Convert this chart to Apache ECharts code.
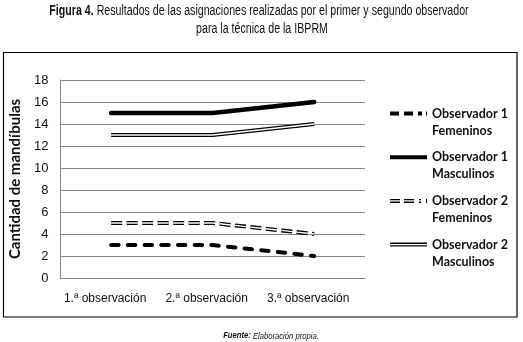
<!DOCTYPE html>
<html>
<head>
<meta charset="utf-8">
<script src="https://cdn.jsdelivr.net/npm/echarts@6/dist/echarts.min.js"></script>
<style>
  html, body { margin: 0; padding: 0; background: #fff; }
  #chart { width: 523px; height: 342px; }
</style>
</head>
<body>
<div id="chart"></div>
<script>
// data
const categories = ['1.ª observación', '2.ª observación', '3.ª observación']
const obs1Fem = [3, 3, 2]
const obs1Masc = [15, 15, 16]
const obs2Fem = [5, 5, 4]
const obs2Masc = [13, 13, 14]
const yTicks = { min: 0, max: 18, interval: 2 }

const chart = echarts.init(document.getElementById('chart'))

// legend icons drawn in a 37x4 box
const iconDash = 'path://M0,0H9V4H0Z M14,0H23V4H14Z M28,0H32V4H28Z M36,0H37V4H36Z'
const iconSolid = 'path://M0,0H37V4H0Z'
const iconDoubleDash = 'path://M0,0H10V1.3H0Z M0,2.7H10V4H0Z M14,0H24V1.3H14Z M14,2.7H24V4H14Z M29,0H31V1.3H29Z M29,2.7H31V4H29Z M36,0H37V4H36Z'
const iconDouble = 'path://M0,0H37V1.3H0Z M0,2.7H37V4H0Z'

const black = '#000'
const narrow = '"Liberation Sans", Arial, sans-serif'
const line = (name, data, width, type, color, cap) => ({
  name,
  type: 'line',
  data,
  symbol: 'none',
  color: color,
  lineStyle: { color: color, width: width, type: type, cap: cap || 'butt' },
  emphasis: { disabled: true },
  silent: true
})

const option = {
  animation: false,
  graphic: [
    // heading, squeezed horizontally to look like the condensed face
    {
      type: 'text',
      x: 259,
      y: 11,
      scaleX: 0.76,
      silent: true,
      style: {
        text: '{b|Figura 4.} Resultados de las asignaciones realizadas por el primer y segundo observador',
        font: '14px ' + narrow,
        fill: '#111',
        align: 'center',
        verticalAlign: 'middle',
        rich: { b: { fontWeight: 'bold', fontSize: 14, fontFamily: narrow, fill: '#111' } }
      }
    },
    {
      type: 'text',
      x: 262,
      y: 29,
      scaleX: 0.76,
      silent: true,
      style: {
        text: 'para la técnica de la IBPRM',
        font: '14px ' + narrow,
        fill: '#111',
        align: 'center',
        verticalAlign: 'middle'
      }
    },
    {
      type: 'text',
      x: 271,
      y: 336,
      scaleX: 0.85,
      silent: true,
      style: {
        text: '{b|Fuente:} Elaboración propia.',
        font: 'italic 9px ' + narrow,
        fill: '#111',
        align: 'center',
        verticalAlign: 'middle',
        rich: { b: { fontWeight: 'bold', fontStyle: 'italic', fontSize: 9, fontFamily: narrow, fill: '#111' } }
      }
    },
    {
      type: 'rect',
      shape: { x: 3.5, y: 52.5, width: 513.5, height: 264.5 },
      style: { fill: 'none', stroke: '#000', lineWidth: 1.2 },
      silent: true
    }
  ],
  legend: {
    orient: 'vertical',
    left: 390,
    top: 88,
    padding: 0,
    itemGap: -7.3,
    itemWidth: 37,
    itemHeight: 4,
    symbolKeepAspect: false,
    textStyle: {
      fontFamily: 'Lato, "Open Sans", sans-serif',
      fontWeight: 'bold',
      fontSize: 12.5,
      color: '#111',
      lineHeight: 17
    },
    // empty first line so "Observador n" sits level with the icon
    formatter: name => '\n' + name.replace(/ (Fem|Masc)/, '\n$1'),
    data: [
      { name: 'Observador 1 Femeninos', icon: iconDash, itemStyle: { color: black, borderWidth: 0 } },
      { name: 'Observador 1 Masculinos', icon: iconSolid, itemStyle: { color: black, borderWidth: 0 } },
      { name: 'Observador 2 Femeninos', icon: iconDoubleDash, itemStyle: { color: black, borderWidth: 0 } },
      { name: 'Observador 2 Masculinos', icon: iconDouble, itemStyle: { color: black, borderWidth: 0 } }
    ]
  },
  grid: { left: 60, right: 158, top: 80, bottom: 64 },
  xAxis: {
    type: 'category',
    data: categories,
    boundaryGap: true,
    axisLine: { lineStyle: { color: '#8a8a8a', width: 1 } },
    axisTick: { show: false },
    axisLabel: {
      interval: 0,
      margin: 15,
      padding: [0, 12, 0, 0],
      fontFamily: '"Liberation Sans", Arial, sans-serif',
      fontSize: 12,
      color: '#111'
    }
  },
  yAxis: {
    type: 'value',
    min: yTicks.min,
    max: yTicks.max,
    interval: yTicks.interval,
    name: 'Cantidad de mandíbulas',
    nameLocation: 'middle',
    nameGap: 34,
    nameTextStyle: {
      fontFamily: 'Lato, "Open Sans", sans-serif',
      fontWeight: 'bold',
      fontSize: 15,
      color: '#111'
    },
    axisLine: { show: true, lineStyle: { color: '#8a8a8a', width: 1 } },
    axisTick: { show: false },
    splitLine: { lineStyle: { color: '#8a8a8a', width: 1 } },
    axisLabel: {
      margin: 12,
      fontFamily: '"Liberation Sans", Arial, sans-serif',
      fontSize: 13,
      color: '#111',
      padding: [4, 0, 0, 0]
    }
  },
  series: [
    line('Observador 1 Femeninos', obs1Fem, 4, [7.5, 9.2], black, 'round'),
    line('Observador 1 Masculinos', obs1Masc, 4.5, 'solid', black, 'round'),
    line('Observador 2 Femeninos', obs2Fem, 4, [11, 4.5], black),
    line('o2f-inner', obs2Fem, 1.4, [11, 4.5], '#fff'),
    line('Observador 2 Masculinos', obs2Masc, 4.2, 'solid', black),
    line('o2m-inner', obs2Masc, 1.4, 'solid', '#fff')
  ]
}

chart.setOption(option)
</script>
</body>
</html>
